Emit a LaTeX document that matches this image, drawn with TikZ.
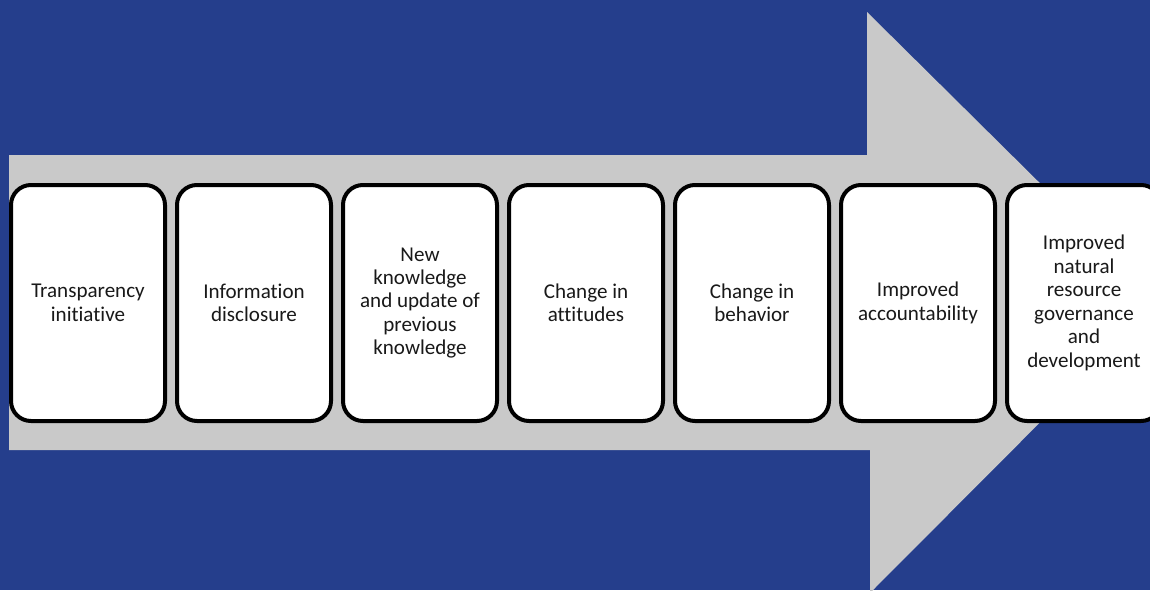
\documentclass[tikz,border=0pt]{standalone}
\usepackage{fontspec}
\setmainfont[Ligatures=NoCommon]{Carlito}
\usetikzlibrary{positioning}

\definecolor{bgblue}{RGB}{37,62,140}
\definecolor{arrowgray}{RGB}{201,201,201}
\definecolor{textdark}{RGB}{25,25,25}

\tikzset{
    stagebox/.style={draw=black, line width=3pt, fill=white, rounded corners=15pt,
        minimum width=115.5pt, minimum height=177pt, inner sep=0pt, outer sep=0pt,
        align=center, text=textdark, font=\fontsize{15.8}{17.6}\selectfont}
}

\begin{document}
\begin{tikzpicture}[x=0.75pt, y=-0.75pt, node distance=9pt]
    % Nền xanh
    \clip (0,0) rectangle (1150,590);
    \fill[bgblue] (0,0) rectangle (1150,590);

    % Mũi tên lớn màu xám
    \fill[arrowgray] (9,155) -- (867,155) -- (867,12) -- (1160,302)
        -- (870,593) -- (870,450) -- (9,450) -- cycle;

    % Các bước
    \node[stagebox] (s1) at (88,303) {Transparency\\initiative};
    \node[stagebox, right=of s1] (s2) {Information\\disclosure};
    \node[stagebox, right=of s2] (s3) {New\\knowledge\\and update of\\previous\\knowledge};
    \node[stagebox, right=of s3] (s4) {Change in\\attitudes};
    \node[stagebox, right=of s4] (s5) {Change in\\behavior};
    \node[stagebox, right=of s5] (s6) {Improved\\accountability};
    \node[stagebox, right=of s6] (s7) {Improved\\natural\\resource\\governance\\and\\development};
\end{tikzpicture}
\end{document}
